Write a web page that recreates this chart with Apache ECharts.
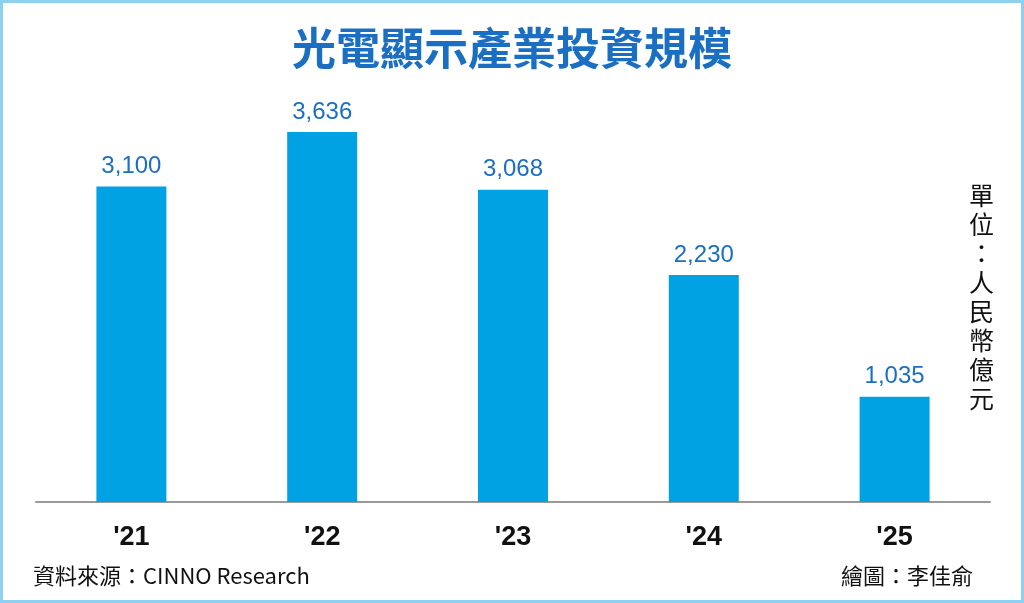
<!DOCTYPE html>
<html><head><meta charset="utf-8">
<script src="https://cdn.jsdelivr.net/npm/echarts@6/dist/echarts.min.js"></script>
<style>html,body{margin:0;padding:0;background:#fff}#c{width:1024px;height:603px;box-sizing:border-box;border:3px solid #8ed0ef}</style>
</head><body><div id="c"></div>
<script>
const categories = ["'21","'22","'23","'24","'25"];
const values = [3100, 3636, 3068, 2230, 1035];
const F = '"Noto Sans CJK TC","Noto Sans",sans-serif';
const chart = echarts.init(document.getElementById('c'));
chart.setOption({
  animation:false,
  title:{text:'光電顯示產業投資規模',left:'center',top:18,textStyle:{fontFamily:F,fontSize:44,fontWeight:'bold',color:'#1b6fc2'}},
  grid:{left:33,right:31,top:92,bottom:98},
  xAxis:{type:'category',data:categories,axisTick:{show:false},
    axisLine:{lineStyle:{color:'#999',width:2}},
    axisLabel:{fontFamily:'Liberation Sans, Arial',fontSize:27,fontWeight:'bold',color:'#111',margin:22}},
  yAxis:{type:'value',min:0,max:4000,show:false,splitLine:{show:false}},
  series:[{type:'bar',data:values,barWidth:70,itemStyle:{color:'#00a2e3'},
    label:{show:true,position:'top',distance:8,fontFamily:'Liberation Sans, Arial',fontSize:24,color:'#1b6fc2',
      formatter:p=>p.value.toLocaleString('en-US')}}],
  graphic:[
    {type:'text',left:30,top:562,style:{text:'資料來源：CINNO Research',fontFamily:F,fontSize:22,fill:'#111'}},
    {type:'text',right:48,top:562,style:{text:'繪圖：李佳俞',fontFamily:F,fontSize:22,fill:'#111'}},
    {type:'text',left:966,top:178,style:{text:'單\n位\n：\n人\n民\n幣\n億\n元',fontFamily:F,fontSize:25,lineHeight:29,fill:'#111'}}
  ]
});
const pt = chart.convertToPixel({xAxisIndex:0,yAxisIndex:0},[4,0]);
chart.setOption({graphic:[{},{},{},{type:'text',x:pt[0],y:pt[1]-18,style:{text:'H1',fontFamily:'Liberation Sans, Arial',fontSize:30,fill:'#fff',align:'center',verticalAlign:'bottom'}}]});
</script></body></html>
